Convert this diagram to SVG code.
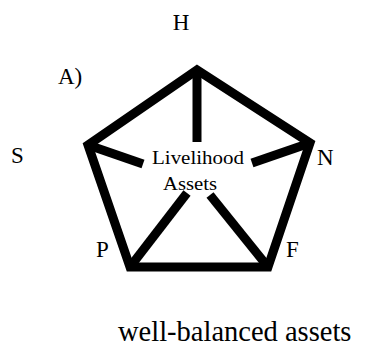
<svg xmlns="http://www.w3.org/2000/svg" width="370" height="350" viewBox="0 0 370 350">
<style>
text{font-family:'Liberation Serif','Times New Roman',serif;fill:#000}
.lbl{font-size:23px}
.c{font-size:19px}
.e{fill:none;stroke:#000;stroke-width:9;stroke-linecap:square;stroke-linejoin:miter}
.s{fill:none;stroke:#000;stroke-width:9;stroke-linecap:butt}
</style>
<rect width="370" height="350" fill="#fff"/>
<g id="connectors">
<polygon class="e" points="197,70 88,145 130,267 268,267 310,143"/>
<line class="s" x1="197" y1="70" x2="197" y2="142"/>
<line class="s" x1="88" y1="145" x2="143" y2="164"/>
<line class="s" x1="310" y1="143" x2="252" y2="163"/>
<line class="s" x1="130" y1="267" x2="187" y2="193"/>
<line class="s" x1="268" y1="267" x2="210" y2="195"/>
</g>
<g id="node-H"><text class="lbl" x="181" y="30" text-anchor="middle">H</text></g>
<g id="label-A"><text class="lbl" x="58" y="84">A)</text></g>
<g id="node-S"><text class="lbl" x="11" y="163">S</text></g>
<g id="node-N"><text class="lbl" x="317" y="165">N</text></g>
<g id="node-P"><text class="lbl" x="96" y="257">P</text></g>
<g id="node-F"><text class="lbl" x="286" y="257">F</text></g>
<g id="node-center">
<text class="c" x="198" y="164" text-anchor="middle" textLength="92" lengthAdjust="spacingAndGlyphs">Livelihood</text>
<text class="c" x="190" y="190" text-anchor="middle" textLength="54" lengthAdjust="spacingAndGlyphs">Assets</text>
</g>
<g id="caption"><text x="118" y="341" font-size="28.5">well-balanced assets</text></g>
</svg>
